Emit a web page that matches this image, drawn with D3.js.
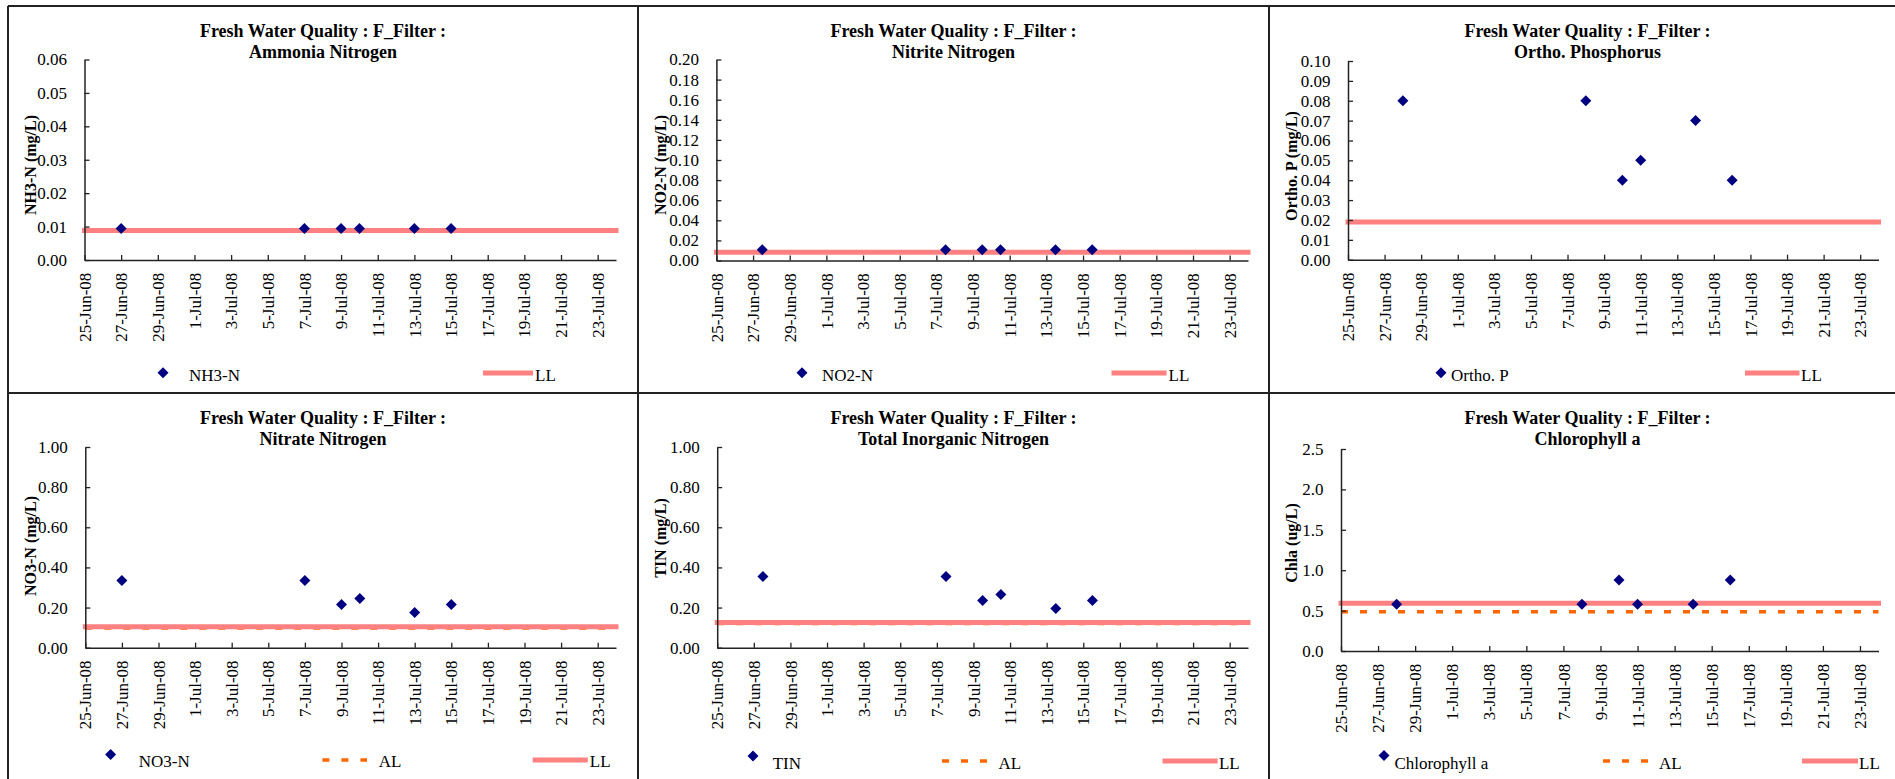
<!DOCTYPE html>
<html><head><meta charset="utf-8">
<script src="https://cdn.jsdelivr.net/npm/d3@7"></script>
<style>
html,body{margin:0;padding:0;background:#fff;overflow:hidden;}
svg{display:block;font-family:"Liberation Serif","Times New Roman",serif;}
</style></head><body>
<svg id="chart" width="1895" height="779"></svg>
<script>
// ---------------- data ----------------
const datesA = ["2008-06-27 00:00","2008-07-07 00:00","2008-07-09 00:00","2008-07-10 00:00","2008-07-13 00:00","2008-07-15 00:00"];
const datesB = ["2008-06-27 12:00","2008-07-07 12:00","2008-07-09 12:00","2008-07-10 12:00","2008-07-13 12:00","2008-07-15 12:00"];
const datesC = ["2008-06-28 00:00","2008-07-08 00:00","2008-07-10 00:00","2008-07-11 00:00","2008-07-14 00:00","2008-07-16 00:00"];

const nh3Values    = [0.0094, 0.0094, 0.0094, 0.0094, 0.0094, 0.0094];
const no2Values    = [0.0106, 0.0106, 0.0106, 0.0106, 0.0106, 0.0106];
const orthoPValues = [0.08, 0.08, 0.04, 0.05, 0.07, 0.04];
const no3Values    = [0.335, 0.335, 0.215, 0.245, 0.175, 0.215];
const tinValues    = [0.355, 0.355, 0.235, 0.265, 0.195, 0.235];
const chlaValues   = [0.58, 0.58, 0.88, 0.58, 0.58, 0.88];

const nh3LL = 0.0088, no2LL = 0.0083, orthoPLL = 0.019;
const no3LL = 0.105, no3AL = 0.098;
const tinLL = 0.126, tinAL = 0.121;
const chlaLL = 0.59, chlaAL = 0.487;

const xDomain = ["2008-06-25 00:00", "2008-07-24 00:00"];
const xTickDates = ["2008-06-25","2008-06-27","2008-06-29","2008-07-01","2008-07-03","2008-07-05","2008-07-07",
  "2008-07-09","2008-07-11","2008-07-13","2008-07-15","2008-07-17","2008-07-19","2008-07-21","2008-07-23"];

const yTicksNH3 = [0, 0.01, 0.02, 0.03, 0.04, 0.05, 0.06];
const yTicksNO2 = [0, 0.02, 0.04, 0.06, 0.08, 0.10, 0.12, 0.14, 0.16, 0.18, 0.20];
const yTicksOP  = [0, 0.01, 0.02, 0.03, 0.04, 0.05, 0.06, 0.07, 0.08, 0.09, 0.10];
const yTicksNO3 = [0, 0.2, 0.4, 0.6, 0.8, 1.0];
const yTicksTIN = [0, 0.2, 0.4, 0.6, 0.8, 1.0];
const yTicksChla = [0, 0.5, 1.0, 1.5, 2.0, 2.5];

const mainTitle = "Fresh Water Quality : F_Filter :";
const subTitles = ["Ammonia Nitrogen", "Nitrite Nitrogen", "Ortho. Phosphorus", "Nitrate Nitrogen", "Total Inorganic Nitrogen", "Chlorophyll a"];
const yTitles = ["NH3-N (mg/L)", "NO2-N (mg/L)", "Ortho. P (mg/L)", "NO3-N (mg/L)", "TIN (mg/L)", "Chla (ug/L)"];
const seriesNames = ["NH3-N", "NO2-N", "Ortho. P", "NO3-N", "TIN", "Chlorophyll a"];

// ---------------- build ----------------
const parseT = d3.timeParse("%Y-%m-%d %H:%M");
const parseD = d3.timeParse("%Y-%m-%d");
const fmtDate = d3.timeFormat("%-d-%b-%y");

const charts = [
  {dates: datesA, values: nh3Values, ll: nh3LL, al: null, ticks: yTicksNH3, fmt: ".2f"},
  {dates: datesB, values: no2Values, ll: no2LL, al: null, ticks: yTicksNO2, fmt: ".2f"},
  {dates: datesC, values: orthoPValues, ll: orthoPLL, al: null, ticks: yTicksOP, fmt: ".2f"},
  {dates: datesA, values: no3Values, ll: no3LL, al: no3AL, ticks: yTicksNO3, fmt: ".2f"},
  {dates: datesB, values: tinValues, ll: tinLL, al: tinAL, ticks: yTicksTIN, fmt: ".2f"},
  {dates: datesC, values: chlaValues, ll: chlaLL, al: chlaAL, ticks: yTicksChla, fmt: ".1f"}
];

// ---------------- layout (positions) ----------------
const colX = [[8, 638], [638, 1269], [1269, 1906]];
const rowY = [[6, 393], [393, 786]];
const layout = [
  {col:0,row:0, px:[84.5,616], py:[59.5,260], ytc:165,
   leg:{pt:[163,372.7], ptText:[189,380.5], ll:[483,533,373], llText:[535,380.5]}},
  {col:1,row:0, px:[716.4,1248], py:[59.5,260.5], ytc:165,
   leg:{pt:[802,372.7], ptText:[822,380.5], ll:[1111.5,1166.6,373], llText:[1168.6,380.5]}},
  {col:2,row:0, px:[1348,1878.5], py:[61,259.7], ytc:166,
   leg:{pt:[1441,372.7], ptText:[1451,380.5], ll:[1745,1799.5,373], llText:[1801,380.5]}},
  {col:0,row:1, px:[85.3,616], py:[447,647.7], ytc:546,
   leg:{pt:[110.6,754.5], ptText:[138.8,767], al:[322.4,367,760], alText:[378.8,767], ll:[532.7,587.8,760], llText:[589.8,767]}},
  {col:1,row:1, px:[717.2,1248], py:[447,647.7], ytc:538,
   leg:{pt:[753,756], ptText:[772.7,768.5], al:[942,987,761], alText:[998.4,768.5], ll:[1162.5,1217.6,761], llText:[1218.9,768.5]}},
  {col:2,row:1, px:[1341,1878.5], py:[449,651], ytc:543,
   leg:{pt:[1384,755.5], ptText:[1394.4,768.5], al:[1603,1648,761], alText:[1659,768.5], ll:[1802,1858,761], llText:[1859,768.5]}}
];

const NAVY = "#000080", LLC = "#FF8080", ALC = "#FF6600", AXC = "#222";
const FONT = '"Liberation Serif","Times New Roman",serif';
const diamond = "M0,-5.5L5.5,0L0,5.5L-5.5,0Z";

const svg = d3.select("#chart");
svg.append("rect").attr("width",1895).attr("height",779).attr("fill","#fff");

charts.forEach((c, i) => {
  const L = layout[i];
  const [pl, pr] = colX[L.col];
  const [pt, pb] = rowY[L.row];
  const g = svg.append("g");

  const x = d3.scaleTime().domain(xDomain.map(parseT)).range(L.px);
  const y = d3.scaleLinear().domain([c.ticks[0], c.ticks[c.ticks.length-1]]).range([L.py[1], L.py[0]]);

  // titles
  const cx = (pl + pr) / 2;
  g.append("text").attr("x", cx).attr("y", pt + 30.5).attr("text-anchor","middle")
    .attr("font-size", 18).attr("font-weight","bold").text(mainTitle);
  g.append("text").attr("x", cx).attr("y", pt + 52).attr("text-anchor","middle")
    .attr("font-size", 18).attr("font-weight","bold").text(subTitles[i]);

  // y axis title
  g.append("text").attr("transform", `translate(${pl + 27.5},${L.ytc}) rotate(-90)`)
    .attr("text-anchor","middle").attr("font-size",16).attr("font-weight","bold").text(yTitles[i]);

  // reference lines
  const [d0, d1] = x.domain();
  if (c.al !== null) {
    g.append("line").attr("x1", x(d0)).attr("x2", x(d1)).attr("y1", y(c.al)).attr("y2", y(c.al))
      .attr("stroke", ALC).attr("stroke-width", 3.5).attr("stroke-dasharray","7,12");
  }
  g.append("line").attr("x1", x(d0)).attr("x2", x(d1)).attr("y1", y(c.ll)).attr("y2", y(c.ll))
    .attr("stroke", LLC).attr("stroke-width", 5).attr("stroke-linecap","square");

  // axes
  const yAxis = d3.axisLeft(y).tickValues(c.ticks).tickFormat(d3.format(c.fmt))
    .tickSizeInner(-5).tickSizeOuter(0).tickPadding(17.5);
  const ya = g.append("g").attr("transform", `translate(${L.px[0]},0)`).call(yAxis);
  const xAxis = d3.axisBottom(x).tickValues(xTickDates.map(parseD)).tickFormat(fmtDate)
    .tickSizeInner(-5).tickSizeOuter(0);
  const xa = g.append("g").attr("transform", `translate(0,${L.py[1]})`).call(xAxis);
  [ya, xa].forEach(a => {
    a.attr("font-family", FONT).attr("font-size", 17);
    a.select(".domain").attr("stroke", AXC).attr("stroke-width", 1.5);
    a.selectAll(".tick line").attr("stroke", AXC).attr("stroke-width", 1.3);
    a.selectAll("text").attr("fill","#000");
  });
  xa.selectAll(".tick text").attr("transform","rotate(-90)").attr("x",-12.7).attr("y",0)
    .attr("dy","0.33em").attr("text-anchor","end");

  // points
  g.selectAll("path.pt").data(c.values.map((v, k) => ({t: parseT(c.dates[k]), v})))
    .enter().append("path").attr("class","pt").attr("d", diamond).attr("fill", NAVY)
    .attr("transform", d => `translate(${x(d.t)},${y(d.v)})`);

  // legend
  const lg = L.leg;
  g.append("path").attr("d", diamond).attr("fill", NAVY).attr("transform", `translate(${lg.pt[0]},${lg.pt[1]})`);
  g.append("text").attr("x", lg.ptText[0]).attr("y", lg.ptText[1]).attr("font-size",17).text(seriesNames[i]);
  if (lg.al) {
    g.append("line").attr("x1", lg.al[0]).attr("x2", lg.al[1]).attr("y1", lg.al[2]).attr("y2", lg.al[2])
      .attr("stroke", ALC).attr("stroke-width", 3.5).attr("stroke-dasharray","7,12");
    g.append("text").attr("x", lg.alText[0]).attr("y", lg.alText[1]).attr("font-size",17).text("AL");
  }
  g.append("line").attr("x1", lg.ll[0]).attr("x2", lg.ll[1]).attr("y1", lg.ll[2]).attr("y2", lg.ll[2])
    .attr("stroke", LLC).attr("stroke-width", 5);
  g.append("text").attr("x", lg.llText[0]).attr("y", lg.llText[1]).attr("font-size",17).text("LL");
});

// panel frames
const frame = svg.append("g").attr("fill","none").attr("stroke", AXC).attr("stroke-width", 2);
frame.append("line").attr("x1", colX[0][0]).attr("x2", 1895).attr("y1", rowY[0][0]).attr("y2", rowY[0][0]);
frame.append("line").attr("x1", colX[0][0]).attr("x2", 1895).attr("y1", rowY[1][0]).attr("y2", rowY[1][0]);
frame.append("line").attr("x1", colX[0][0]).attr("x2", colX[0][0]).attr("y1", rowY[0][0]).attr("y2", 779);
frame.append("line").attr("x1", colX[1][0]).attr("x2", colX[1][0]).attr("y1", rowY[0][0]).attr("y2", 779);
frame.append("line").attr("x1", colX[2][0]).attr("x2", colX[2][0]).attr("y1", rowY[0][0]).attr("y2", 779);
</script>
</body></html>
